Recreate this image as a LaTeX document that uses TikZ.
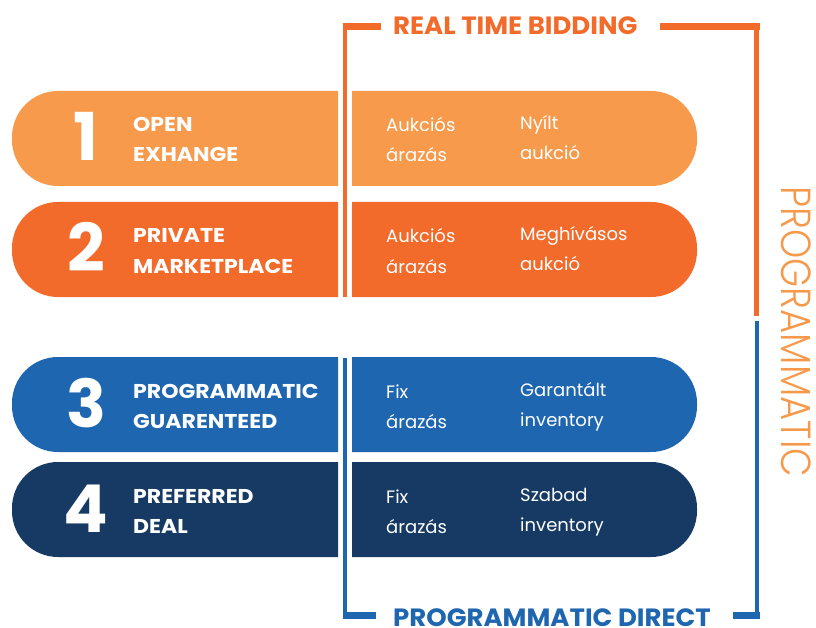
\documentclass[tikz,border=0pt]{standalone}
\usepackage{fontspec}
\setmainfont{Poppins}
\newfontfamily\lightfont{Poppins Light}
\definecolor{barA}{HTML}{F79A4C}
\definecolor{barB}{HTML}{F26B2B}
\definecolor{barC}{HTML}{1E66B0}
\definecolor{barD}{HTML}{163A64}
\definecolor{rtb}{HTML}{F26B2B}
\definecolor{pdir}{HTML}{1E66B0}
\definecolor{prog}{HTML}{F7994B}
% wide set for the bold labels
\newcommand\widebold[2]{\scalebox{#1}[1]{#2}}
\begin{document}
\begin{tikzpicture}[x=1pt,y=-1pt,
  bigno/.style={text=white,font=\fontsize{66}{66}\selectfont\bfseries,anchor=base,inner sep=0},
  head/.style={text=white,font=\fontsize{20}{20}\selectfont\bfseries,anchor=base west,inner sep=0,
    text height=14pt,text depth=0pt},
  info/.style={text=white,font=\fontsize{18}{18}\selectfont,anchor=base west,inner sep=0,
    text height=14pt,text depth=4pt},
  title/.style={font=\fontsize{25}{25}\selectfont\bfseries,anchor=base west,inner sep=0},
  vline/.style={line width=4.6pt},
  hline/.style={line width=7pt}]
\useasboundingbox (0,0) rectangle (816,628);

% four rows: left half carries number and name, right half the pricing notes
\foreach \n/\t/\c/\ha/\hb/\pa/\pb/\qa/\qb in {
  1/91/barA/OPEN/EXHANGE/Aukciós/árazás/Nyílt/aukció,
  2/202/barB/PRIVATE/MARKETPLACE/Aukciós/árazás/Meghívásos/aukció,
  3/357/barC/PROGRAMMATIC/GUARENTEED/Fix/árazás/Garantált/inventory,
  4/462/barD/PREFERRED/DEAL/Fix/árazás/Szabad/inventory}{
  \pgfmathsetmacro\b{\t+95}
  \fill[\c] (338,\t) [rounded corners=46pt] -- (12,\t) -- (12,\b) [sharp corners] -- (338,\b) -- cycle;
  \fill[\c] (352,\b) [rounded corners=46pt] -- (697,\b) -- (697,\t) [sharp corners] -- (352,\t) -- cycle;
  \node[bigno] (num\n) at (86,\t+70) {\n};
  \node[head] (hda\n) at (133,\t+41) {\widebold{1.1}{\ha}};
  \node[head] (hdb\n) at (133,\t+71) {\widebold{1.1}{\hb}};
  \node[info] (pra\n) at (386,\t+41) {\pa};
  \node[info] (prb\n) at (386,\t+71) {\pb};
  \node[info] (kda\n) at (520,\t+39) {\qa};
  \node[info] (kdb\n) at (520,\t+69) {\qb};
}

% group titles
\node[title,text=rtb] (rtbtitle) at (393,35) {\widebold{1.04}{REAL TIME BIDDING}};
\node[title,text=pdir] (pdtitle) at (393,626) {\widebold{1.04}{PROGRAMMATIC DIRECT}};
\node[text=prog,font=\lightfont\fontsize{42}{42}\selectfont,rotate=-90,inner sep=0] (progtitle)
  at (796,332) {\scalebox{0.885}[1]{PROGRAMMATIC}};

% bracket corners
\coordinate (rtbL) at (345,26.5);
\coordinate (rtbR) at (756.5,26.5);
\coordinate (rtbEnd) at (345,297);
\coordinate (rtbMid) at (756.5,316);
\coordinate (pdL) at (345,615);
\coordinate (pdR) at (757,615);
\coordinate (pdTop) at (345,358);
\coordinate (pdMid) at (757,321);

% real time bidding bracket
\draw[rtb,hline] ([xshift=-2.5pt]rtbL) -- ([xshift=-12pt]rtbtitle.west |- rtbL);
\draw[rtb,hline] ([xshift=22pt]rtbtitle.east |- rtbR) -- ([xshift=3pt]rtbR);
\draw[rtb,vline] ([yshift=-3.5pt]rtbL) -- (rtbEnd);
\draw[rtb,vline] ([yshift=-3.5pt]rtbR) -- (rtbMid);

% programmatic direct bracket
\draw[pdir,hline] ([xshift=-2.5pt]pdL) -- ([xshift=-17pt]pdtitle.west |- pdL);
\draw[pdir,hline] ([xshift=22pt]pdtitle.east |- pdR) -- ([xshift=3pt]pdR);
\draw[pdir,vline] ([yshift=3.5pt]pdL) -- (pdTop);
\draw[pdir,vline] ([yshift=3.5pt]pdR) -- (pdMid);
\end{tikzpicture}
\end{document}
